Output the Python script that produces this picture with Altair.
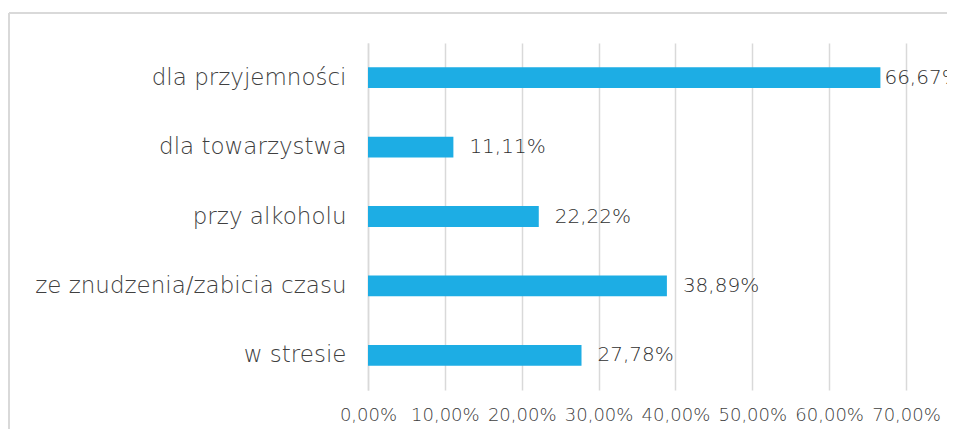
import altair as alt
import pandas as pd

categories = ["dla przyjemności", "dla towarzystwa", "przy alkoholu",
              "ze znudzenia/zabicia czasu", "w stresie"]
values = [0.6667, 0.1111, 0.2222, 0.3889, 0.2778]
x_ticks = [0, 0.1, 0.2, 0.3, 0.4, 0.5, 0.6, 0.7]

df = pd.DataFrame({"cat": categories, "val": values})

FONT = "DejaVu Sans"
W, H = 538, 347
PL, PT, PR, PB = 360, 35, 41, 39

x_enc = alt.X("val:Q", scale=alt.Scale(domain=[0, 0.7], nice=False),
              axis=alt.Axis(values=x_ticks, title=None, ticks=False, domain=False,
                            grid=True, gridColor="#d9d9d9", gridWidth=1.5,
                            labelExpr="replace(format(datum.value, '.2%'), '.', ',')",
                            labelFont=FONT, labelFontSize=18, labelFontWeight=200,
                            labelColor="#404040", labelOverlap=False, labelFlush=False,
                            labelPadding=16))
y_enc = alt.Y("cat:N", sort=categories,
              scale=alt.Scale(paddingInner=0.7, paddingOuter=0.35),
              axis=alt.Axis(title=None, ticks=False, domain=True, domainColor="#d9d9d9",
                            domainWidth=1.5, labelFont=FONT, labelFontSize=23,
                            labelFontWeight=200, labelLimit=400,
                            labelColor="#404040", labelPadding=22))

bars = alt.Chart(df).mark_bar(color="#1DADE4").encode(x=x_enc, y=y_enc)

base_text = alt.Chart(df).transform_calculate(
    lab="replace(format(datum.val, '.2%'), '.', ',')"
)
labels_out = base_text.transform_filter("datum.val < 0.6").mark_text(
    align="left", baseline="middle", dx=16, font=FONT, fontSize=20,
    fontWeight=200, color="#303030").encode(
    x="val:Q", y=alt.Y("cat:N", sort=categories), text="lab:N")
labels_edge = base_text.transform_filter("datum.val >= 0.6").mark_text(
    align="left", baseline="middle", dx=4, font=FONT, fontSize=20,
    fontWeight=200, color="#303030").encode(
    x="val:Q", y=alt.Y("cat:N", sort=categories), text="lab:N")

border_top = alt.Chart(df).mark_rule(color="#d9d9d9", strokeWidth=1.5).encode(
    x=alt.value(-359), x2=alt.value(W + PR), y=alt.value(-30))
border_left = alt.Chart(df).mark_rule(color="#d9d9d9", strokeWidth=1.5).encode(
    x=alt.value(-359), y=alt.value(-30), y2=alt.value(H + PB))

chart = alt.layer(bars, labels_out, labels_edge, border_top, border_left).properties(
    width=W, height=H,
    autosize=alt.AutoSizeParams(type="none"),
    padding={"left": PL, "top": PT, "right": PR, "bottom": PB},
).configure_view(stroke=None)

chart.save("out.html", embed_options={"renderer": "svg", "actions": False})
